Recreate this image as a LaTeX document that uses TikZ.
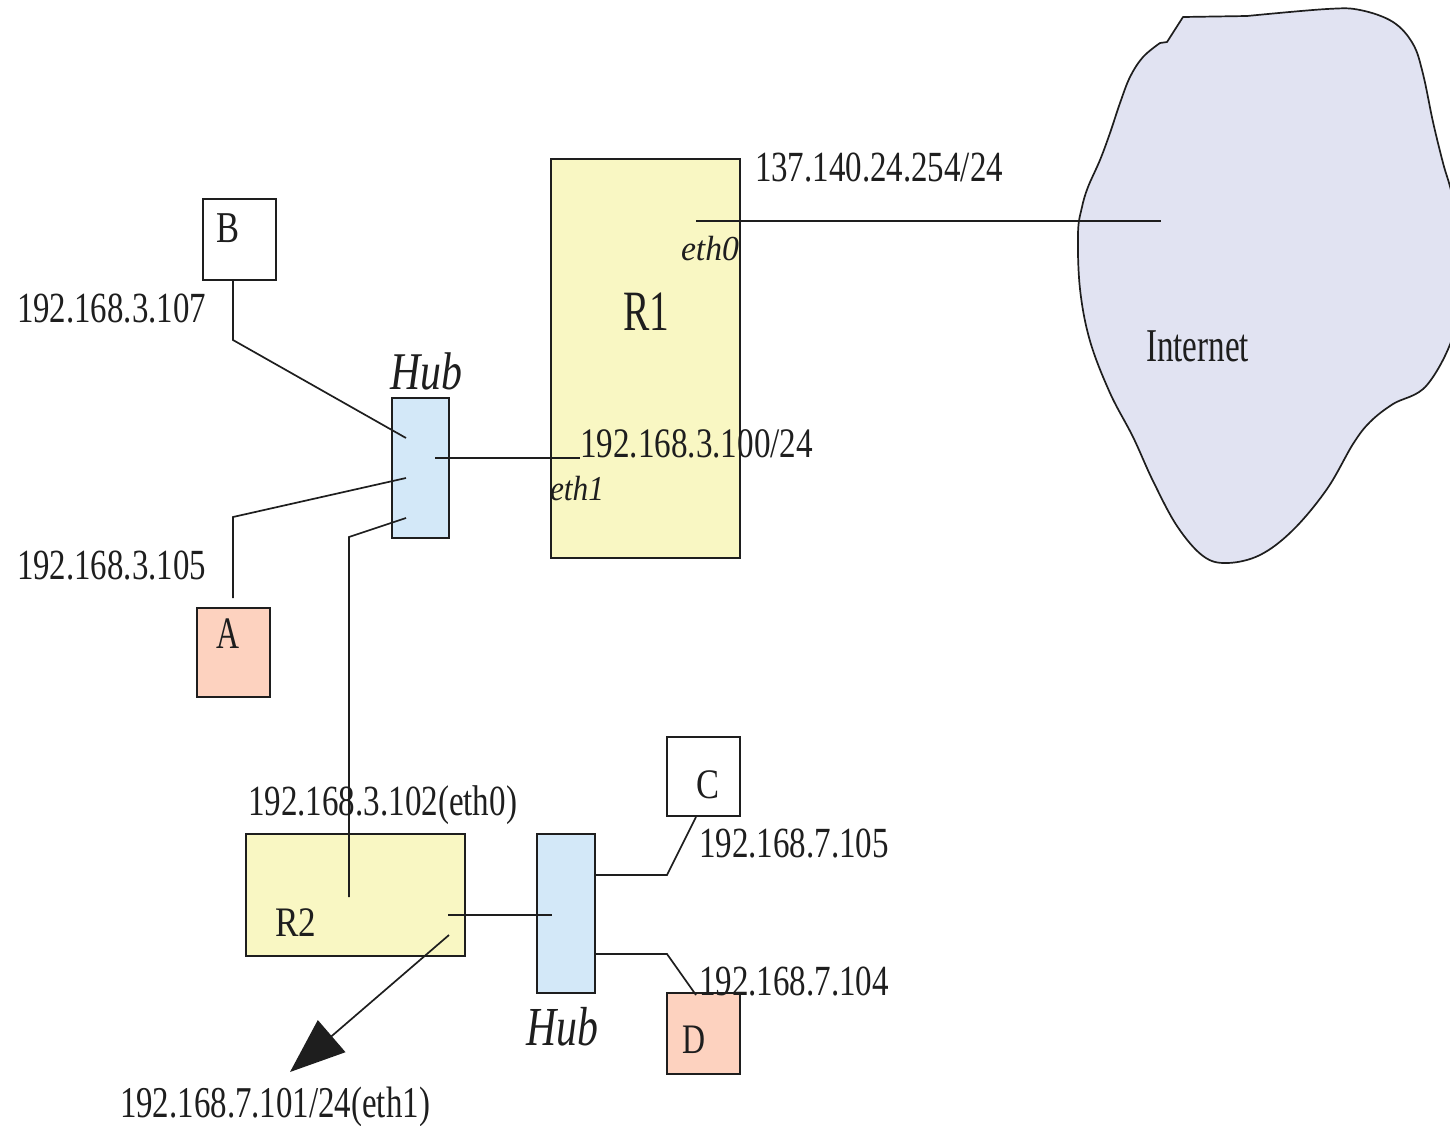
\documentclass[tikz,border=0pt]{standalone}
\usepackage{graphicx}
\usepackage{fontspec}
\setmainfont{Liberation Serif}
\usetikzlibrary{arrows.meta}
\definecolor{rtyellow}{RGB}{249,247,195}
\definecolor{hubblue}{RGB}{211,232,248}
\definecolor{hostsalmon}{RGB}{253,210,191}
\definecolor{cloudfill}{RGB}{225,227,242}
\definecolor{ink}{RGB}{30,30,30}
\newcommand\lbl[3]{\resizebox{#1pt}{\height}{\fontsize{#2pt}{#2pt}\selectfont #3}}
\tikzset{
  box/.style={draw=ink, line width=1.7pt, inner sep=0pt, outer sep=0pt},
  rtbox/.style={box, fill=rtyellow},
  hubbox/.style={box, fill=hubblue},
  hostw/.style={box, fill=white, minimum width=73pt},
  hosts/.style={box, fill=hostsalmon, minimum width=73pt},
  wire/.style={draw=ink, line width=1.7pt},
  txt/.style={anchor=base west, inner sep=0pt, outer sep=0pt, text=ink}
}
\begin{document}
\begin{tikzpicture}[x=1pt,y=-1pt]
\useasboundingbox (0,0) rectangle (1450,1125);
\clip (0,0) rectangle (1450,1125);

% cloud
\draw[draw=ink, line width=1.7pt, fill=cloudfill, line join=round]
  (1160,43) -- (1167,42) -- (1183,17) -- (1247,16)
  -- plot[smooth, tension=0.6] coordinates {
(1247,16) (1327,9) (1360,10) (1393,22) (1413,44) (1423,74) (1433,122)
(1443,163) (1453,200) (1461,265) (1455,330) (1427,385) (1393,404) (1370,422)
(1353,444) (1327,489) (1293,530) (1260,555) (1227,563) (1203,556) (1177,526)
(1153,481) (1133,437) (1110,393) (1090,341) (1080,289) (1078,233) (1082,207)
(1088,187) (1100,160) (1110,133) (1120,103) (1130,77) (1143,57) (1160,43)}
  -- cycle;

% boxes
\node[hostw, minimum height=81pt] (B) at (239.5,239.5) {};
\node[hosts, minimum height=89pt] (A) at (233.5,652.5) {};
\node[hubbox, minimum width=57pt, minimum height=140pt] (hub1) at (420.5,468) {};
\node[rtbox, minimum width=189pt, minimum height=399pt] (R1) at (645.5,358.5) {};
\node[rtbox, minimum width=219pt, minimum height=122pt] (R2) at (355.5,895) {};
\node[hubbox, minimum width=58pt, minimum height=159pt] (hub2) at (566,913.5) {};
\node[hostw, minimum height=79pt] (C) at (703.5,776.5) {};
\node[hosts, minimum height=81pt] (D) at (703.5,1033.5) {};

% ports
\coordinate (h1b) at (406,438);
\coordinate (h1a) at (406,478);
\coordinate (h1r) at (406,518);
\coordinate (h1c) at (435,458);
\coordinate (r1e1) at (580,458);
\coordinate (r1e0) at (696,221);
\coordinate (inet) at (1161,221);
\coordinate (r2e0) at (349,897);
\coordinate (r2e1) at (448,915);
\coordinate (r2o) at (449,935);
\coordinate (h2c) at (552,915);
\coordinate (out) at (290,1072);

% labels
\node[txt] (lB) at (216,242) {\lbl{23}{44}{B}};
\node[txt] (lA) at (216,648) {\lbl{23}{45}{A}};
\node[txt] (lC) at (696,798) {\lbl{23}{42}{C}};
\node[txt] (lD) at (682,1053) {\lbl{23}{42}{D}};
\node[txt] (ip107) at (17,322) {\lbl{189}{43}{192.168.3.107}};
\node[txt] (ip105) at (17,579) {\lbl{189}{43}{192.168.3.105}};
\node[txt] (hubt1) at (390,389) {\lbl{72}{53}{\itshape Hub}};
\node[txt] (r1t) at (623,330) {\lbl{46}{57}{R1}};
\node[txt] (eth0t) at (681,260) {\lbl{58}{35}{\itshape eth0}};
\node[txt] (eth1t) at (550,500) {\lbl{54}{35}{\itshape eth1}};
\node[txt] (ipext) at (755,181) {\lbl{248}{43}{137.140.24.254/24}};
\node[txt] (ip100) at (580,457) {\lbl{233}{42}{192.168.3.100/24}};
\node[txt] (inett) at (1146,361) {\lbl{103}{47}{Internet}};
\node[txt] (ip102) at (248,815) {\lbl{269}{43}{192.168.3.102(eth0)}};
\node[txt] (r2t) at (275,936) {\lbl{41}{42}{R2}};
\node[txt] (ip101) at (120,1117) {\lbl{310}{44}{192.168.7.101/24(eth1)}};
\node[txt] (hubt2) at (526,1045) {\lbl{72}{55}{\itshape Hub}};
\node[txt] (ip7105) at (699,857) {\lbl{190}{43}{192.168.7.105}};
\node[txt] (ip7104) at (699,995) {\lbl{190}{43}{192.168.7.104}};

% wires
\draw[wire] (h1b) -- (233,340) -- (233,280);
\draw[wire] (h1a) -- (233,517) -- (233,598);
\draw[wire] (h1r) -- (349,537) -- (r2e0);
\draw[wire] (h1c) -- (r1e1);
\draw[wire] (r1e0) -- (inet);
\draw[wire] (r2e1) -- (h2c);
\draw[wire] (595,875) -- (667,875) -- (696,817);
\draw[wire] (595,954) -- (667,954) -- (696,995);
\draw[wire, -{Triangle[length=55pt,width=42pt]}] (r2o) -- (out);
\end{tikzpicture}
\end{document}
